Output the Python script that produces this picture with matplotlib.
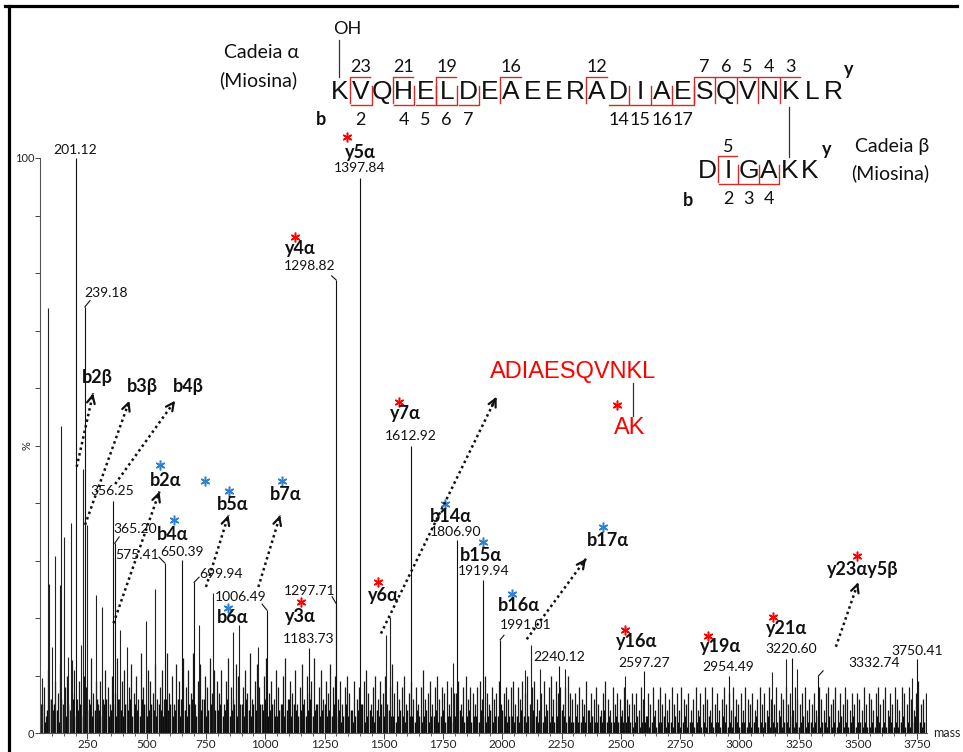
import numpy as np
import matplotlib.pyplot as plt

# labelled fragment peaks: m/z and relative intensity (%)
label_mz = [201.12, 239.18, 356.25, 365.20, 575.41, 650.39, 699.94, 1006.49,
            1183.73, 1297.71, 1298.82, 1397.84, 1612.92, 1806.90, 1919.94,
            1991.01, 2240.12, 2597.27, 2954.49, 3220.60, 3332.74, 3750.41]
label_int = [100, 74.1, 40.4, 33.0, 29.6, 30.1, 26.2, 21.4,
             14.8, 22.6, 78.8, 96.6, 50.0, 33.6, 26.6,
             16.2, 11.7, 10.7, 10.0, 13.0, 9.9, 12.8]

# other prominent, unlabelled peaks
other_mz = [60, 83, 86, 102, 113, 134, 140, 151, 166, 180, 184, 222, 231, 250,
            288, 313, 386, 418, 497, 536, 722, 779, 862, 890, 971, 1511, 1527,
            1790, 2094, 2122, 2157, 2266, 2519, 3137, 3196, 3243, 3729]
other_int = [9.6, 74, 26, 15, 30.7, 25.7, 53.4, 34.1, 13.3, 36.6, 12.7, 15.3,
             46, 36.2, 24, 22, 17.9, 15, 19.5, 25, 18.8, 24.4, 17.6, 18.8, 15,
             17, 20.2, 12.2, 11, 15.3, 11.1, 11.1, 9.9, 10.6, 12.8, 11.1, 9.6]

# background ions, one every 10 Da starting at m/z 55 (%)
noise_a = [
    5, 8, 3, 11, 6, 4, 9, 7, 12, 5, 8, 10, 4, 7, 11, 6, 9, 5, 10, 8, 6, 13, 7, 9, 5,
    9, 6, 11, 8, 5, 10, 7, 13, 6, 9, 11, 5, 8, 12, 7, 10, 6, 14, 8, 5, 11, 9, 7, 12, 6,
    8, 11, 6, 14, 7, 10, 5, 12, 9, 6, 13, 8, 11, 7, 14, 5, 9, 12, 6, 10, 8, 13, 7, 11, 9,
    7, 11, 5, 9, 13, 8, 6, 12, 10, 5, 8, 11, 7, 14, 6, 9, 12, 8, 5, 10, 13, 7, 9, 6, 11,
    8, 5, 10, 13, 6, 9, 7, 11, 5, 8, 12, 6, 10, 7, 9, 13, 5, 8, 11, 6, 9, 7, 12, 8, 10,
    6, 9, 5, 8, 10, 7, 4, 9, 6, 8, 5, 9, 11, 7, 5, 8, 10, 6, 9, 7, 10, 5, 8, 12, 7,
    9, 6, 8, 10, 5, 7, 9, 6, 8, 5, 8, 11, 6, 7, 9, 5, 8, 10, 6, 8, 7, 9, 5, 8, 7,
    7, 9, 5, 8, 10, 6, 8, 7, 5, 8, 9, 6, 10, 7, 5, 8, 6, 7, 9, 5, 7, 8, 6, 8, 9,
    5, 8, 6, 9, 7, 10, 5, 8, 9, 6, 4, 7, 9, 5, 8, 10, 6, 9, 7, 8, 5, 8, 10, 7, 6,
    7, 5, 8, 6, 5, 9, 4, 7, 6, 8, 5, 4, 7, 9, 6, 4, 8, 5, 7, 6, 4, 8, 6, 5, 7,
    5, 7, 4, 8, 6, 3, 7, 5, 8, 4, 6, 8, 5, 7, 4, 6, 8, 5, 7, 4, 8, 6, 5, 7, 4,
    6, 8, 4, 7, 5, 8, 6, 4, 8, 5, 7, 4, 6, 8, 5, 7, 4, 8, 6, 5, 7, 4, 8, 6, 5,
    7, 4, 6, 8, 5, 7, 4, 8, 6, 5, 8, 4, 7, 6, 8, 5, 7, 4, 8, 6, 5, 7, 8, 4, 6,
    5, 7, 4, 8, 6, 4, 7, 8, 5, 6, 8, 4, 7, 5, 8, 6, 4, 7, 5, 7, 6, 4, 8, 5, 7,
    6, 4, 7, 8, 5, 6, 8, 4, 7, 5, 8, 6, 4, 8, 7, 5, 8, 6, 4, 7, 9, 5, 6, 7,
]
# low baseline ions, one every 10 Da starting at m/z 50 (%)
noise_b = [
    3, 5, 2, 4, 6, 3, 5, 4, 2, 6, 4, 3, 5, 4, 6, 3, 4, 5, 3, 6, 4, 5, 3, 4, 6,
    4, 3, 5, 6, 3, 4, 5, 3, 6, 4, 3, 5, 4, 6, 3, 5, 4, 3, 6, 5, 3, 4, 5, 4, 3,
    5, 4, 3, 6, 4, 5, 3, 4, 6, 3, 5, 4, 3, 5, 6, 4, 3, 5, 4, 6, 3, 4, 5, 3, 4,
    4, 5, 3, 4, 6, 3, 4, 5, 3, 4, 5, 3, 6, 4, 3, 5, 4, 3, 5, 4, 6, 3, 4, 5, 3,
    3, 4, 5, 3, 4, 6, 3, 5, 4, 3, 4, 5, 3, 4, 6, 3, 4, 5, 3, 4, 5, 3, 4, 3, 5,
    3, 4, 2, 3, 5, 3, 4, 2, 3, 4, 3, 5, 2, 3, 4, 3, 2, 4, 3, 5, 3, 2, 4, 3, 3,
    2, 3, 4, 3, 2, 4, 3, 3, 2, 4, 3, 2, 3, 4, 2, 3, 3, 4, 2, 3, 4, 2, 3, 3, 2,
    3, 2, 4, 3, 2, 3, 4, 2, 3, 3, 2, 4, 3, 2, 3, 4, 2, 3, 3, 2, 4, 3, 2, 3, 3,
    2, 3, 2, 4, 3, 2, 3, 2, 4, 3, 2, 3, 2, 3, 4, 2, 3, 2, 3, 2, 4, 3, 2, 3, 2,
    2, 3, 2, 2, 3, 2, 4, 2, 3, 2, 2, 3, 2, 4, 2, 3, 2, 2, 3, 2, 3, 2, 2, 3, 2,
    1, 2, 3, 1, 2, 2, 3, 1, 2, 3, 1, 2, 2, 3, 1, 2, 2, 1, 3, 2, 1, 2, 3, 1, 2,
    2, 1, 2, 3, 1, 2, 1, 3, 2, 1, 2, 2, 1, 3, 2, 1, 2, 1, 3, 2, 1, 2, 2, 1, 2,
    1, 2, 3, 1, 2, 1, 2, 3, 1, 2, 1, 2, 3, 1, 2, 2, 1, 3, 1, 2, 1, 2, 3, 1, 2,
    2, 1, 2, 3, 1, 2, 2, 1, 3, 1, 2, 1, 2, 3, 1, 2, 1, 2, 3, 1, 2, 2, 1, 2, 1,
    1, 2, 1, 3, 2, 1, 2, 1, 3, 2, 1, 2, 1, 2, 3, 1, 2, 1, 2, 3, 1, 2, 1, 2,
]

# cross-linked peptide
alpha_seq = "KVQHELDEAEERADIAESQVNKLR"
alpha_y = [23, 21, 19, 16, 12, 7, 6, 5, 4, 3]
alpha_b = [2, 4, 5, 6, 7, 14, 15, 16, 17]
beta_seq = "DIGAKK"
beta_y = [5]
beta_b = [2, 3, 4]

ion_names = ["y5α", "y4α", "b2β", "b3β", "b4β", "b2α", "b5α", "b7α", "b4α", "b6α",
             "y3α", "y6α", "y7α", "b14α", "b15α", "b16α", "b17α", "y16α", "y19α",
             "y21α", "y23αy5β"]

RED = "#ff0000"
BLUE = "#2f80d0"
BOX = "#d42a2a"

plt.rcParams['font.family'] = ['Lato', 'DejaVu Sans']

fig = plt.figure(figsize=(9.63, 7.52), dpi=100)
ax = fig.add_axes([40 / 963, 1 - 733 / 752, 886.7 / 963, 575 / 752])

noise_a_mz = 55 + 10 * np.arange(len(noise_a))
noise_b_mz = 50 + 10 * np.arange(len(noise_b))
ax.vlines(noise_b_mz, 0, noise_b, colors="#0a0a0a", lw=1.0)
ax.vlines(noise_a_mz, 0, noise_a, colors="#1a1a1a", lw=0.9)
ax.vlines(other_mz, 0, other_int, colors="#222222", lw=0.8)
ax.vlines(label_mz, 0, label_int, colors="#111111", lw=0.8)

ax.set_xlim(50, 3790)
ax.set_ylim(0, 100)
for s in ["top", "right"]:
    ax.spines[s].set_visible(False)
for s in ["left", "bottom"]:
    ax.spines[s].set_color("#555555")
    ax.spines[s].set_linewidth(0.8)

ax.set_xticks(np.arange(250, 3751, 250))
ax.set_xticks(np.arange(100, 3790, 50), minor=True)
ax.set_yticks(np.arange(0, 101, 10))
ax.set_yticklabels(["0"] + [""] * 9 + ["100"])
ax.tick_params(axis="x", which="major", length=4, width=0.7, pad=0,
               labelsize=8.5, colors="#444444", labelcolor="#222222")
ax.tick_params(axis="x", which="minor", length=2.5, width=0.6, colors="#444444")
ax.tick_params(axis="y", length=3.5, width=0.7, pad=0.5, labelsize=8,
               colors="#444444", labelcolor="#222222")

# numeric labels above peaks: (x, y) of the text centre
num_label_xy = [(198, 101.4), (329, 76.6), (354, 42.1), (451, 35.4), (458, 31.0),
                (649, 31.5), (814, 27.7), (898, 23.6), (1182, 16.3), (1189, 24.7),
                (1189, 81.2), (1396, 98.3), (1612, 51.7), (1804, 35.0), (1920, 28.2),
                (2100, 18.7), (2239, 13.2), (2597, 12.2), (2953, 11.4), (3220, 14.6),
                (3567, 12.2), (3751, 14.3)]
for mz, (tx, ty) in zip(label_mz, num_label_xy):
    ax.text(tx, ty, f"{mz:.2f}", ha="center", va="center", fontsize=10,
            color="#111111", clip_on=False)

# short leaders from peak apex to a shifted label
leaders = {239.18: (261, 75.2), 365.20: (384, 34.1), 575.41: (552, 30.6),
           699.94: (721, 27.1), 1006.49: (987, 22.4), 1297.71: (1282, 23.7),
           1298.82: (1280, 79.5), 1991.01: (2007, 17.0), 3332.74: (3353, 10.8)}
for mz, (ex, ey) in leaders.items():
    h = label_int[label_mz.index(mz)]
    ax.plot([mz, ex], [h, ey], color="#111111", lw=0.8, clip_on=False)

# fragment ion names, with star positions
ion_xy = [(1400, 101.0), (1147, 84.3), (291, 61.9), (481, 60.2), (675, 60.2),
          (580, 44.0), (862, 39.8), (1086, 41.4), (611, 34.6), (864, 20.1),
          (1147, 20.2), (1497, 24.0), (1592, 55.6), (1782, 37.7), (1908, 30.8),
          (2069, 22.1), (2445, 33.4), (2568, 16.0), (2921, 15.0), (3200, 18.1),
          (3521, 28.5)]
star_xy = {"y5α": (1345, 103.7, RED), "y4α": (1126, 86.3, RED),
           "b2α": (557, 46.6, BLUE), "b5α": (849, 42.1, BLUE),
           "b7α": (1070, 43.8, BLUE), "b4α": (616, 37.0, BLUE),
           "b6α": (842, 21.7, BLUE), "y3α": (1151, 22.7, RED),
           "y6α": (1474, 26.3, RED), "y7α": (1564, 57.6, RED),
           "b14α": (1758, 39.9, BLUE), "b15α": (1917, 33.3, BLUE),
           "b16α": (2042, 24.1, BLUE), "b17α": (2423, 35.9, BLUE),
           "y16α": (2517, 18.0, RED), "y19α": (2866, 16.9, RED),
           "y21α": (3142, 20.1, RED), "y23αy5β": (3498, 30.8, RED)}
for name, (tx, ty) in zip(ion_names, ion_xy):
    ax.text(tx, ty, name, ha="center", va="center", fontsize=13,
            fontweight="bold", color="#111111", clip_on=False)
    if name in star_xy:
        sx, sy, c = star_xy[name]
        ax.plot(sx, sy, marker=(6, 2, 0), ms=7, mew=1.1, color=c, clip_on=False)
ax.plot(746, 43.8, marker=(6, 2, 0), ms=7, mew=1.1, color=BLUE)

# dotted arrows pointing to the ion names
arrows = [((205, 46.3), (274, 59.1)), ((240, 36.2), (427, 57.8)),
          ((367, 43.3), (620, 57.8)), ((360, 19.1), (554, 42.0)),
          ((750, 25.4), (845, 37.9)), ((971, 25.4), (1063, 37.9)),
          ((1488, 17.3), (1976, 58.5)), ((2103, 16.3), (2353, 30.3)),
          ((3407, 15.0), (3501, 26.2))]
for (x0, y0), (x1, y1) in arrows:
    ax.plot([x0, x1], [y0, y1], ls=(0, (1, 1.3)), lw=1.8, color="#111111",
            clip_on=False)
    bx = x1 - (x1 - x0) * 0.04
    by = y1 - (y1 - y0) * 0.04
    ax.annotate("", xy=(x1, y1), xytext=(bx, by),
                arrowprops=dict(arrowstyle="->", lw=1.6, color="#111111",
                                mutation_scale=14, shrinkA=0, shrinkB=0))

# internal fragment, red
ax.text(2298, 62.8, "ADIAESQVNKL", ha="center", va="center", fontsize=17,
        color=RED, family="Liberation Sans")
ax.text(2538, 53.0, "AK", ha="center", va="center", fontsize=17,
        color=RED, family="Liberation Sans")
ax.plot([2552, 2552], [60.8, 55.1], color="#333333", lw=0.9)
ax.plot(2482, 57.0, marker=(6, 2, 0), ms=7, mew=1.1, color=RED)

ax.text(-0.008, 0.5, "%", transform=ax.transAxes, rotation=90, ha="right",
        va="center", fontsize=8, color="#222222")
fig.text(933 / 963, 1 - 733 / 752, "mass", ha="left", va="center",
         fontsize=9, color="#222222")

# overlay in pixel units for the sequence scheme and the frame
ov = fig.add_axes([0, 0, 1, 1], facecolor="none")
ov.set_xlim(0, 963)
ov.set_ylim(752, 0)
ov.axis("off")
ov.plot([5, 957], [5.5, 5.5], color="black", lw=2.3)
ov.plot([8.7, 8.7], [5.5, 752], color="black", lw=2.3)


def draw_chain(seq, x0, step, yc, y_ions, b_ions):
    xs = x0 + step * np.arange(len(seq))
    for x, ch in zip(xs, seq):
        ov.text(x, yc, ch, ha="center", va="center", fontsize=19,
                family="Liberation Sans", color="#111111")
    top, bot = yc - 15.5, yc + 12.5
    for n in y_ions:
        i = len(seq) - n
        xl = xs[i] - step / 2
        ov.plot([xl, xl, xl + step * 0.95], [bot - 2, top, top], color=BOX, lw=1.0)
        ov.text(xs[i], yc - 24.5, str(n), ha="center", va="center", fontsize=13,
                color="#111111")
    for n in b_ions:
        i = n - 1
        xr = xs[i] + step / 2
        ov.plot([xr, xr, xr - step * 0.95], [top + 9, bot, bot], color=BOX, lw=1.0)
        ov.text(xs[i], yc + 28, str(n), ha="center", va="center", fontsize=13,
                color="#111111")
    return xs


ax_x = draw_chain(alpha_seq, 339.3, 21.48, 92, alpha_y, alpha_b)
bx_x = draw_chain(beta_seq, 707.5, 20.5, 171, beta_y, beta_b)

ov.text(347.5, 29, "OH", ha="center", va="center", fontsize=13, color="#111111")
ov.plot([ax_x[0], ax_x[0]], [40, 77], color="#333333", lw=0.9)
ov.plot([789.3, 789.3], [106.7, 156.7], color="#333333", lw=0.9)
ov.text(320.7, 119.3, "b", ha="center", va="center", fontsize=13,
        fontweight="bold", color="#111111")
ov.text(848.3, 70, "y", ha="center", va="center", fontsize=13,
        fontweight="bold", color="#111111")
ov.text(688, 200, "b", ha="center", va="center", fontsize=13,
        fontweight="bold", color="#111111")
ov.text(826.7, 150, "y", ha="center", va="center", fontsize=13,
        fontweight="bold", color="#111111")
ov.text(261, 52, "Cadeia α", ha="center", va="center", fontsize=14, color="#111111")
ov.text(258, 80, "(Miosina)", ha="center", va="center", fontsize=14, color="#111111")
ov.text(892.5, 146.7, "Cadeia β", ha="center", va="center", fontsize=14, color="#111111")
ov.text(890, 173, "(Miosina)", ha="center", va="center", fontsize=14, color="#111111")

fig.savefig("out.png", dpi=100)
